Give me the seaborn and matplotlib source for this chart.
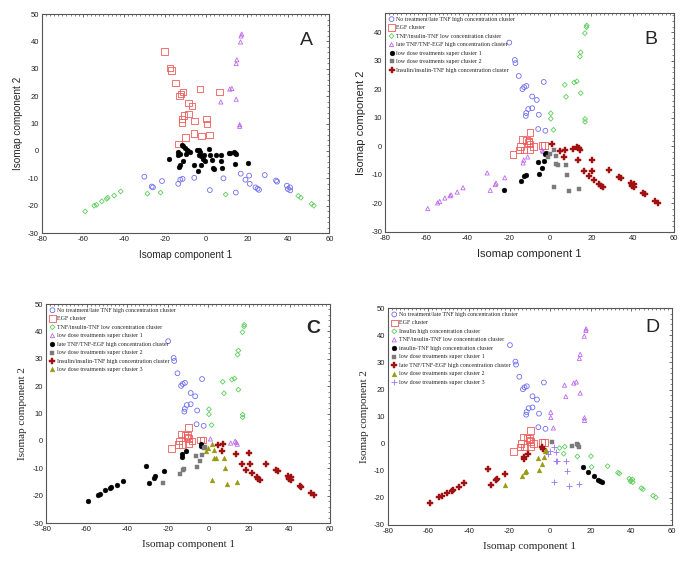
import numpy as np
import matplotlib
matplotlib.use("Agg")
import matplotlib.pyplot as plt
from matplotlib.ticker import MultipleLocator
import seaborn as sns

# ---------------- panel A (its own cluster assignment) ----------------
a_red_x = [-20.4, -17.5, -17.0, -15.0, -13.1, -12.3, -11.2, -2.9, 6.6, -8.7, -6.8, -10.8, -8.7,
           -11.8, -11.8, -5.8, 0.2, 0.3, -6.0, -2.4, 1.5, -10.0, -13.4]
a_red_y = [36.4, 30.3, 29.4, 24.9, 20.1, 20.8, 21.5, 22.6, 21.5, 17.5, 16.5, 13.0, 13.5,
           11.6, 10.4, 11.0, 11.6, 9.8, 6.3, 5.5, 5.8, 4.9, 2.6]
a_purple_x = [17.3, 17.0, 16.7, 14.9, 14.6, 11.5, 12.5, 7.1, 14.6, 16.3, 16.3]
a_purple_y = [42.7, 42.0, 39.8, 33.3, 31.9, 22.6, 22.8, 17.9, 18.9, 9.6, 9.0]
a_blue_x = [-30.1, -25.9, -26.5, -21.5, -13.6, -12.6, -11.5, -5.8, 1.8, 8.4, 14.4, 16.8, 19.1,
            20.9, 21.2, 24.0, 25.0, 25.7, 28.5, 34.0, 34.5, 39.3, 39.8, 40.8, 40.9]
a_blue_y = [-9.4, -13.3, -13.0, -11.0, -12.0, -10.5, -10.2, -9.8, -14.3, -10.0, -15.2, -8.3, -10.5,
            -9.0, -12.0, -13.3, -13.8, -14.2, -8.8, -10.8, -11.2, -12.7, -13.9, -13.3, -14.4]
a_green_x = [-58.9, -54.5, -53.4, -50.8, -48.4, -47.9, -44.8, -41.6, -28.6, -22.2, 9.5,
             44.8, 46.1, 51.3, 52.4]
a_green_y = [-22.1, -20.0, -19.7, -18.4, -17.5, -17.1, -16.3, -14.8, -15.6, -15.2, -15.9,
             -16.4, -17.1, -19.3, -20.0]
a_black_x = [-18.0, -12.0, -11.2, -10.4, -9.5, -8.7, -7.9, -13.6, -12.8, -13.8, -12.8, -13.1,
             -11.2, -9.9, -5.8, -3.9, -4.4, -3.4, -2.9, -3.4, -2.4, -1.5, -2.6, -0.6, -1.1,
             1.3, 1.8, 2.6, 3.4, 3.9, 4.9, 7.3, 7.4, 7.6, 11.2, 11.8, 13.6, 14.2, 14.7, 13.8, 20.4]
a_black_y = [-2.9, 2.2, 1.7, 1.0, 0.4, 0.1, -0.4, -0.4, -1.0, -1.6, -5.0, -5.7,
             -3.8, -1.0, -5.3, -7.5, 0.2, 0.2, -0.5, -1.4, -2.0, -3.0, -5.0, -3.8, -1.4,
             0.6, -1.4, -3.2, -6.3, -6.6, -1.5, -1.4, -3.8, -6.4, -0.9, -0.8, -0.2, -0.7, -1.2, -4.7, -4.4]

# ---------------- point groups shared by panels B, C, D ----------------
ul_x = [-19.8, -17.1, -16.8, -15.2, -13.4, -12.6, -11.5, -3.1, -8.7, -6.5, -10.6, -8.7,
        -11.6, -11.8, -5.5, -5.8, -2.3]
ul_y = [36.4, 30.3, 29.2, 24.7, 20.1, 20.8, 21.2, 22.6, 17.5, 16.3, 13.1, 13.4,
        11.7, 10.7, 11.1, 6.1, 5.5]
ur_x = [17.7, 17.6, 16.8, 14.8, 14.4, 11.6, 12.9, 7.1, 7.7, 14.8, 16.9, 16.9, 0.3, 0.3, 1.6]
ur_y = [42.4, 41.8, 39.7, 33.0, 31.5, 22.4, 22.8, 21.6, 17.4, 18.7, 9.6, 8.6, 11.6, 9.7, 5.8]
egf_x = [-9.8, -13.4, -11.5, -10.5, -9.8, -10.2, -14.4, -14.8, -12.6, -9.7, -8.1, -18.1, -3.9, -2.7]
egf_y = [4.9, 2.5, 2.1, 1.4, 0.9, 1.9, 0.0, -1.3, -1.3, -1.1, 0.0, -2.8, 0.4, 0.4]
ll_x = [-59.3, -54.5, -53.5, -51.0, -48.5, -48.0, -45.0, -42.2, -30.5, -29.0, -26.6, -26.2,
        -22.0, -12.8, -13.1, -10.9, -3.8, -3.4]
ll_y = [-21.8, -19.8, -19.3, -18.1, -17.3, -17.0, -16.0, -14.5, -9.3, -15.4, -13.4, -12.9,
        -11.0, -4.8, -5.8, -3.7, -1.3, -1.8]
lc_x = [-22.4, -14.0, -12.6, -11.9, -5.5, -6.0, -3.9, -2.9, -2.3, -1.8]
lc_y = [-15.2, -12.0, -10.5, -10.2, -9.6, -5.4, -7.5, -5.0, -2.6, -2.2]
lr_x = [2.0, 0.0, -1.0, 2.8, 3.0, 3.6, 7.6, 8.2, 1.7, 9.3, 14.2]
lr_y = [-1.2, -2.7, -3.8, -3.2, -6.2, -6.4, -6.4, -10.0, -14.2, -15.6, -15.0]
rc_x = [1.0, 11.0, 13.2, 13.8, 14.3]
rc_y = [0.7, -0.8, -0.1, -0.6, -1.2]
rin_x = [16.4, 18.6, 21.4, 23.8, 24.6, 25.4]
rin_y = [-8.5, -10.5, -11.9, -13.3, -13.8, -14.2]
rout_x = [4.6, 7.2, 6.7, 13.4, 20.1, 20.4, 28.3, 33.4, 34.1, 39.0, 39.8, 40.7, 39.5, 40.5,
          44.9, 45.7, 50.7, 52.0]
rout_y = [-1.6, -1.1, -3.7, -4.7, -4.6, -8.6, -8.3, -10.7, -11.0, -12.9, -13.5, -14.2, -13.9, -13.2,
          -16.4, -16.8, -19.2, -19.8]

# marker styles
STY = {
    "blue_o": dict(marker="o", s=12, facecolor="none", edgecolor="#6e6ef0", linewidth=0.6),
    "red_s": dict(marker="s", s=22, facecolor="none", edgecolor="#ee5b5b", linewidth=0.6),
    "green_d": dict(marker="D", s=6, facecolor="none", edgecolor="#5ccf5c", linewidth=0.6),
    "purple_t": dict(marker="^", s=9, facecolor="none", edgecolor="#c068ee", linewidth=0.6),
    "black_o": dict(marker="o", s=12, facecolor="black", edgecolor="black", linewidth=0.3),
    "gray_s": dict(marker="s", s=11, facecolor="#7b7b7b", edgecolor="#7b7b7b", linewidth=0.3),
    "red_P": dict(marker="P", s=16, facecolor="#a01212", edgecolor="#a01212", linewidth=0.3),
    "olive_t": dict(marker="^", s=12, facecolor="#9a9a12", edgecolor="#9a9a12", linewidth=0.3),
    "purple_p": dict(marker="+", s=22, linewidth=0.6),
}
PLUS_COLOR = "#9b72f2"

panel_a = [
    (None, a_red_x, a_red_y, "red_s"),
    (None, a_purple_x, a_purple_y, "purple_t"),
    (None, a_blue_x, a_blue_y, "blue_o"),
    (None, a_green_x, a_green_y, "green_d"),
    (None, a_black_x, a_black_y, "black_o"),
]
panel_b = [
    ("No treatment/late TNF high concentration cluster", ul_x, ul_y, "blue_o"),
    ("EGF cluster", egf_x, egf_y, "red_s"),
    ("TNF/insulin-TNF low concentration cluster", ur_x, ur_y, "green_d"),
    ("late TNF/TNF-EGF high concentration cluster", ll_x, ll_y, "purple_t"),
    ("low dose treatments super cluster 1", lc_x, lc_y, "black_o"),
    ("low dose treatments super cluster 2", lr_x, lr_y, "gray_s"),
    ("Insulin/insulin-TNF high concentration cluster", rc_x + rin_x + rout_x,
     rc_y + rin_y + rout_y, "red_P"),
]
panel_c = [
    ("No treatment/late TNF high concentration cluster", ul_x, ul_y, "blue_o"),
    ("EGF cluster", egf_x, egf_y, "red_s"),
    ("TNF/insulin-TNF low concentration cluster", ur_x, ur_y, "green_d"),
    ("low dose treatments super cluster 1", rc_x, rc_y, "purple_t"),
    ("late TNF/TNF-EGF high concentration cluster", ll_x, ll_y, "black_o"),
    ("low dose treatments super cluster 2", lc_x, lc_y, "gray_s"),
    ("Insulin/insulin-TNF high concentration cluster", rin_x + rout_x, rin_y + rout_y, "red_P"),
    ("low dose treatments super cluster 3", lr_x, lr_y, "olive_t"),
]
panel_d = [
    ("No treatment/late TNF high concentration cluster", ul_x, ul_y, "blue_o"),
    ("EGF cluster", egf_x, egf_y, "red_s"),
    ("Insulin high concentration cluster", rout_x, rout_y, "green_d"),
    ("TNF/insulin-TNF low concentration cluster", ur_x, ur_y, "purple_t"),
    ("insulin-TNF high concentration cluster", rin_x, rin_y, "black_o"),
    ("low dose treatments super cluster 1", rc_x, rc_y, "gray_s"),
    ("late TNF/TNF-EGF high concentration cluster", ll_x, ll_y, "red_P"),
    ("low dose treatments super cluster 2", lc_x, lc_y, "olive_t"),
    ("low dose treatments super cluster 3", lr_x, lr_y, "purple_p"),
]

sns.set_style("white")
plt.rcParams["font.family"] = ["Liberation Sans", "DejaVu Sans"]
plt.rcParams["axes.unicode_minus"] = False

fig = plt.figure(figsize=(6.85, 5.63), dpi=100)

# panel spec: data, axes rect, letter, letter pos, bold, label font, label size, ylim top
panels = [
    (panel_a, [0.061, 0.586, 0.420, 0.389], "A", (0.92, 0.88), False, "Liberation Sans", 7.2, 50),
    (panel_b, [0.562, 0.588, 0.422, 0.389], "B", (0.92, 0.88), False, "Liberation Sans", 8.0, 46.8),
    (panel_c, [0.067, 0.071, 0.415, 0.389], "C", (0.94, 0.89), True, "Liberation Serif", 8.0, 50),
    (panel_d, [0.566, 0.0675, 0.415, 0.385], "D", (0.93, 0.91), False, "Liberation Serif", 8.0, 50),
]

for data, rect, letter, lpos, bold, lfont, lsize, ytop in panels:
    ax = fig.add_axes(rect)
    for label, xs, ys, key in data:
        kw = dict(STY[key])
        if key == "purple_p":
            kw["color"] = PLUS_COLOR
        sns.scatterplot(x=xs, y=ys, ax=ax, label=label, legend=False, zorder=3, **kw)
    ax.set_xlim(-80, 60)
    ax.set_ylim(-30, ytop)
    ax.set_xticks(np.arange(-80, 61, 20))
    ax.set_yticks(np.arange(-30, 41 if ytop < 50 else 51, 10))
    ax.xaxis.set_minor_locator(MultipleLocator(2))
    ax.yaxis.set_minor_locator(MultipleLocator(2))
    ax.tick_params(which="both", direction="in", top=True, right=True, colors="#555555",
                   labelcolor="#222222", labelsize=5.5, pad=2)
    ax.tick_params(which="major", length=2.5, width=0.6)
    ax.tick_params(which="minor", length=1.5, width=0.5)
    for sp in ax.spines.values():
        sp.set_color("#555555")
        sp.set_linewidth(0.8)
    ax.set_xlabel("Isomap component 1", fontsize=lsize, family=lfont, labelpad=5)
    ax.set_ylabel("Isomap component 2", fontsize=lsize, family=lfont, labelpad=4)
    ax.text(lpos[0], lpos[1], letter, transform=ax.transAxes, ha="center", va="center",
            fontsize=14, fontweight="bold" if bold else "normal", family="Liberation Sans")
    if data[0][0] is not None:
        ax.legend(loc="upper left", frameon=False,
                  prop={"family": "Liberation Serif", "size": 4.3},
                  borderaxespad=0.5, handletextpad=0.3, labelspacing=0.55,
                  handlelength=1.0, borderpad=0.1)

fig.savefig("out.png", dpi=100)
